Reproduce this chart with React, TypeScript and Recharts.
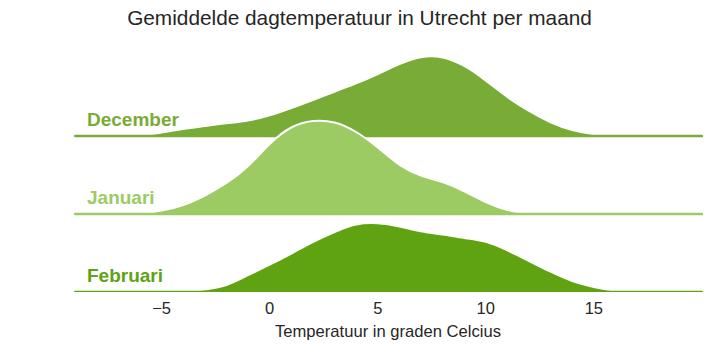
import { ComposedChart, Area, XAxis, YAxis, Label } from "recharts";

const temps = [-9, -8, -7, -6, -5, -4, -3, -2, -1, 0, 1, 2, 3, 4, 5, 6, 7, 8, 9, 10, 11, 12, 13, 14, 15, 16, 17, 18, 19, 20];
const december = [0, 0, 0, 0.2, 3.4, 7, 9.9, 12.7, 15.5, 20.7, 28, 36, 44.3, 52.6, 62, 72, 78.8, 78.5, 70, 55.4, 39, 25, 13.7, 5.9, 1.8, 0.4, 0, 0, 0, 0];
const januari = [0, 0, 0, 0.5, 3.5, 9, 18.5, 31, 48, 70, 86.5, 93, 91.5, 82, 66.5, 49.3, 38.4, 32, 22.7, 12, 4, 0.5, 0, 0, 0, 0, 0, 0, 0, 0];
const februari = [0, 0, 0, 0, 0, 0.5, 2.5, 7, 16.8, 27.3, 38.5, 50, 60, 67.5, 68.8, 65.6, 60.8, 57.4, 54, 50.2, 41.7, 31, 20.3, 11, 5, 1.2, 0, 0, 0, 0];
const xTicks = [-5, 0, 5, 10, 15];

const months = [
  { name: "December", values: december, color: "#78ac36" },
  { name: "Januari", values: januari, color: "#9ccb64" },
  { name: "Februari", values: februari, color: "#5fa312" },
];

// vertical gap between ridges (y units == px here)
const STEP = 78;
const offsetOf = (i: number) => (months.length - 1 - i) * STEP;

const data = temps.map((t, j) => {
  const row: any = { t };
  months.forEach((m, i) => {
    row[m.name] = offsetOf(i) + m.values[j];
    row[m.name + "_base"] = offsetOf(i);
  });
  return row;
});

const W = 719;
const H = 359;
const margin = { top: 40, right: 16, bottom: 0, left: 73 };
const font = "'Liberation Sans', Arial, sans-serif";

export default function App() {
  return (
    <div style={{ position: "absolute", left: 0, top: 0, width: W, height: H, background: "#fff" }}>
      <ComposedChart width={W} height={H} data={data} margin={margin}>
        <XAxis
          dataKey="t"
          type="number"
          domain={[-9.1, 20.05]}
          allowDataOverflow
          ticks={xTicks}
          tickFormatter={(v: number) => (v < 0 ? "\u2212" + Math.abs(v) : String(v))}
          axisLine={false}
          tickLine={false}
          tickMargin={4}
          tick={{ fontSize: 16.5, fill: "#262626", fontFamily: font }}
          height={67}
        >
          <Label
            value="Temperatuur in graden Celcius"
            position="insideTop"
            offset={33}
            style={{ fontSize: 16.6, fill: "#262626", fontFamily: font }}
          />
        </XAxis>
        <YAxis hide domain={[0, 252]} allowDataOverflow />
        {months.flatMap((m, i) => [
          <Area
            key={m.name}
            dataKey={m.name}
            baseValue={offsetOf(i)}
            type="natural"
            fill={m.color}
            fillOpacity={1}
            stroke="#fff"
            strokeWidth={2}
            isAnimationActive={false}
            dot={false}
            activeDot={false}
          />,
          <Area
            key={m.name + "_base"}
            dataKey={m.name + "_base"}
            baseValue={offsetOf(i)}
            type="linear"
            fill="none"
            stroke={m.color}
            strokeWidth={2.5}
            strokeLinecap="round"
            isAnimationActive={false}
            dot={false}
            activeDot={false}
          />,
        ])}
        {months.map((m, i) => (
          <text
            key={m.name + "_label"}
            x={87}
            y={126 + i * STEP}
            fill={m.color}
            fontSize={19}
            fontWeight="bold"
            fontFamily={font}
          >
            {m.name}
          </text>
        ))}
        <text x={359.5} y={25} textAnchor="middle" fontSize={20.8} fill="#262626" fontFamily={font}>
          Gemiddelde dagtemperatuur in Utrecht per maand
        </text>
      </ComposedChart>
    </div>
  );
}
